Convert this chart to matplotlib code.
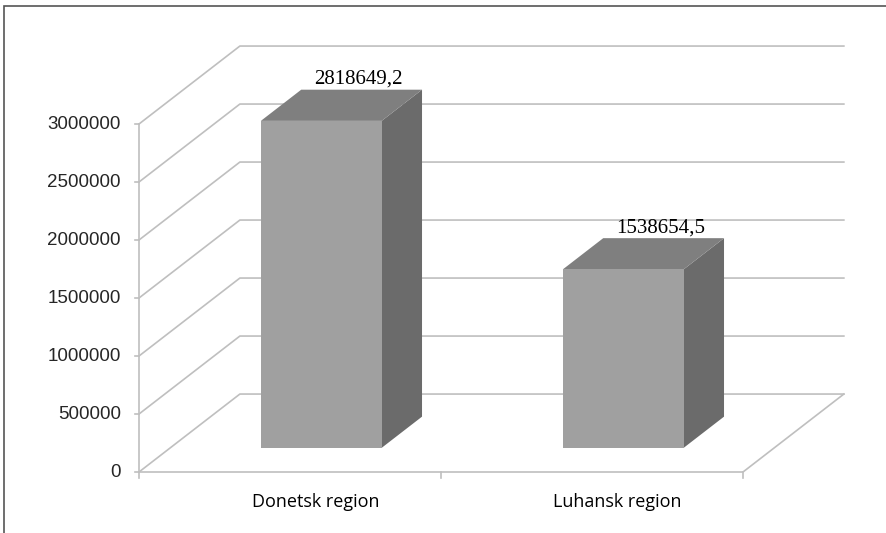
import matplotlib.pyplot as plt
from matplotlib.patches import Polygon, Rectangle

regions = ['Donetsk region', 'Luhansk region']
values = [2818649.2, 1538654.5]
value_labels = ['2818649,2', '1538654,5']
y_ticks = [0, 500000, 1000000, 1500000, 2000000, 2500000, 3000000]

# oblique projection of the depth axis
DX = 0.334        # depth shift, category units
DY = 672000       # depth shift, value units
BAR_W = 0.40
D0, D1 = 0.31, 0.71   # depth span of the columns

FRONT = '#a0a0a0'
TOP = '#7f7f7f'
SIDE = '#6b6b6b'
GRID = '#bfbfbf'

fig = plt.figure(figsize=(8.86, 5.33), dpi=100)
ax = fig.add_axes([0, 0, 1, 1])
ax.set_xlim(-0.9603, 1.9735)
ax.set_ylim(-525862, 4068966)
ax.axis('off')

x_left, x_right = -0.5, len(regions) - 0.5

# walls and floor
for t in y_ticks:
    ax.plot([x_left, x_left + DX, x_right + DX], [t, t + DY, t + DY],
            color=GRID, lw=1.2, zorder=1)
    ax.plot([x_left - 0.013, x_left], [t, t], color=GRID, lw=1.2, zorder=1)
    ax.text(x_left - 0.06, t, f'{t}', ha='right', va='center',
            fontsize=13.5, family='Liberation Sans', color='#262626')
ax.plot([x_left, x_left], [0, y_ticks[-1]], color=GRID, lw=1.2, zorder=1)
ax.plot([x_left, x_right, x_right + DX], [0, 0, DY], color=GRID, lw=1.2, zorder=1)
for k in range(len(regions) + 1):
    ax.plot([x_left + k, x_left + k], [0, -52000], color=GRID, lw=1.2, zorder=1)

# columns
ddx, ddy = (D1 - D0) * DX, (D1 - D0) * DY
for i, (v, lab) in enumerate(zip(values, value_labels)):
    x0 = i - BAR_W / 2 + D0 * DX
    x1 = x0 + BAR_W
    y0 = D0 * DY
    y1 = y0 + v
    ax.add_patch(Polygon([(x1, y0), (x1 + ddx, y0 + ddy), (x1 + ddx, y1 + ddy), (x1, y1)],
                         closed=True, facecolor=SIDE, edgecolor='none', zorder=3))
    ax.add_patch(Polygon([(x0, y1), (x1, y1), (x1 + ddx, y1 + ddy), (x0 + ddx, y1 + ddy)],
                         closed=True, facecolor=TOP, edgecolor='none', zorder=3))
    ax.add_patch(Rectangle((x0, y0), BAR_W, v, facecolor=FRONT, edgecolor='none', zorder=3))
    ax.text(i + 0.226, v + D1 * DY + 90500, lab, ha='center', va='center',
            fontsize=15, family='Liberation Serif', color='black', zorder=4)
    ax.text(i + 0.085, -258600, regions[i], ha='center', va='center',
            fontsize=13, family='Open Sans', color='black')

# chart frame (top and left edges visible)
fig.add_artist(Rectangle((0.004, -0.1), 1.2, 1.088, transform=fig.transFigure,
                         fill=False, edgecolor='#555555', lw=1.2))

fig.savefig('out.png', dpi=100)
